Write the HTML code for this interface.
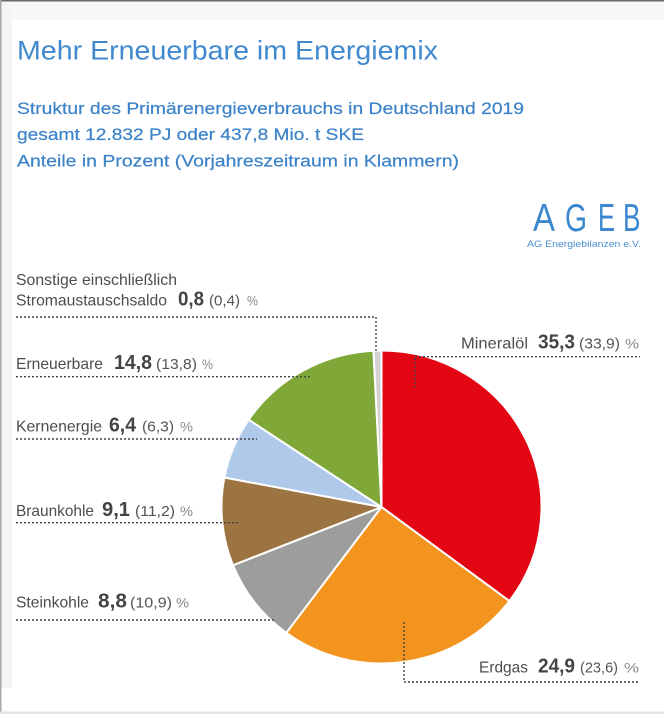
<!DOCTYPE html>
<html><head><meta charset="utf-8"><style>
html,body{margin:0;padding:0;background:#fff;}
svg{display:block;}
text{font-family:"Liberation Sans",sans-serif;}
</style></head><body>
<svg width="664" height="714" viewBox="0 0 664 714" xmlns="http://www.w3.org/2000/svg">
<rect x="0" y="0" width="664" height="714" fill="#fff"/>
<!-- frame -->
<rect x="0" y="0" width="664" height="20" fill="#f7f7f7"/>
<rect x="0" y="0" width="12" height="688" fill="#f5f5f5"/>
<rect x="0" y="0" width="664" height="1.5" fill="#6a6a6a"/>
<rect x="0" y="0" width="1.5" height="714" fill="#a8a8a8"/>
<rect x="0" y="711.5" width="664" height="2.5" fill="#e2e2e2"/>

<!-- header -->
<text x="17" y="59.3" font-size="27" fill="#4189cf" textLength="421" lengthAdjust="spacingAndGlyphs">Mehr Erneuerbare im Energiemix</text>
<g font-size="16.5" fill="#3b82c8" stroke="#3b82c8" stroke-width="0.2">
<text x="17" y="114" textLength="507" lengthAdjust="spacingAndGlyphs">Struktur des Primärenergieverbrauchs in Deutschland 2019</text>
<text x="17" y="140" textLength="347" lengthAdjust="spacingAndGlyphs">gesamt 12.832 PJ oder 437,8 Mio. t SKE</text>
<text x="17" y="166.5" textLength="442" lengthAdjust="spacingAndGlyphs">Anteile in Prozent (Vorjahreszeitraum in Klammern)</text>
</g>

<!-- logo -->
<g font-size="39" fill="#3a87cf">
<text x="533" y="231" textLength="22" lengthAdjust="spacingAndGlyphs">A</text>
<text x="565" y="231" textLength="22" lengthAdjust="spacingAndGlyphs">G</text>
<text x="598" y="231" textLength="17" lengthAdjust="spacingAndGlyphs">E</text>
<text x="623" y="231" textLength="17.5" lengthAdjust="spacingAndGlyphs">B</text>
</g>
<text x="527" y="247" font-size="9" fill="#4a8fd0" textLength="114" lengthAdjust="spacingAndGlyphs">AG Energiebilanzen e.V.</text>

<!-- pie -->
<g stroke="#fff" stroke-width="2" stroke-linejoin="round">
<path d="M381.5 507 L381.5 350.5 A160 156.5 0 0 1 509.37 601.07 Z" fill="#e30613"/>
<path d="M381.5 507 L509.37 601.07 A160 156.5 0 0 1 286.33 632.81 Z" fill="#f3941e"/>
<path d="M381.5 507 L286.33 632.81 A160 156.5 0 0 1 232.99 565.25 Z" fill="#9d9d9c"/>
<path d="M381.5 507 L232.99 565.25 A160 156.5 0 0 1 224.38 477.47 Z" fill="#9c7442"/>
<path d="M381.5 507 L224.38 477.47 A160 156.5 0 0 1 248.7 419.72 Z" fill="#aec9e9"/>
<path d="M381.5 507 L248.7 419.72 A160 156.5 0 0 1 373.47 350.7 Z" fill="#7fa838"/>
<path d="M381.5 507 L373.47 350.7 A160 156.5 0 0 1 381.5 350.5 Z" fill="#d2d2d2"/>
</g>

<!-- leader lines -->
<g fill="none" stroke="#444" stroke-width="1.4" stroke-dasharray="2 2">
<path d="M16 317 H376 V353"/>
<path d="M16 376.7 H310"/>
<path d="M16 439 H257"/>
<path d="M16 522.7 H239"/>
<path d="M16 620 H276"/>
<path d="M415 356.7 H640"/>
<path d="M415 358 V390"/>
<path d="M404 682 H640"/>
<path d="M404 622 V681"/>
</g>

<!-- labels -->
<g>
<text x="16" y="285" font-size="16" fill="#4d4d4d" textLength="161" lengthAdjust="spacingAndGlyphs">Sonstige einschließlich</text>
<text x="16" y="305.5" font-size="16" fill="#4d4d4d" textLength="151" lengthAdjust="spacingAndGlyphs">Stromaustauschsaldo</text>
<text x="178" y="305.5" font-size="20" font-weight="bold" fill="#444" textLength="26" lengthAdjust="spacingAndGlyphs">0,8</text>
<text x="209" y="305.5" font-size="15" fill="#555" textLength="31" lengthAdjust="spacingAndGlyphs">(0,4)</text>
<text x="247" y="305.5" font-size="14" fill="#8a8a8a" textLength="11" lengthAdjust="spacingAndGlyphs">%</text>

<text x="16" y="369" font-size="16" fill="#4d4d4d" textLength="87" lengthAdjust="spacingAndGlyphs">Erneuerbare</text>
<text x="114" y="369" font-size="20" font-weight="bold" fill="#444" textLength="38" lengthAdjust="spacingAndGlyphs">14,8</text>
<text x="156" y="369" font-size="15" fill="#555" textLength="41" lengthAdjust="spacingAndGlyphs">(13,8)</text>
<text x="202" y="369" font-size="14" fill="#8a8a8a" textLength="11" lengthAdjust="spacingAndGlyphs">%</text>

<text x="16" y="431.7" font-size="16" fill="#4d4d4d" textLength="86" lengthAdjust="spacingAndGlyphs">Kernenergie</text>
<text x="109" y="431.7" font-size="20" font-weight="bold" fill="#444" textLength="27" lengthAdjust="spacingAndGlyphs">6,4</text>
<text x="142" y="431.7" font-size="15" fill="#555" textLength="32" lengthAdjust="spacingAndGlyphs">(6,3)</text>
<text x="180" y="431.7" font-size="14" fill="#8a8a8a" textLength="13" lengthAdjust="spacingAndGlyphs">%</text>

<text x="16" y="516" font-size="16" fill="#4d4d4d" textLength="78" lengthAdjust="spacingAndGlyphs">Braunkohle</text>
<text x="102" y="516" font-size="20" font-weight="bold" fill="#444" textLength="28" lengthAdjust="spacingAndGlyphs">9,1</text>
<text x="135" y="516" font-size="15" fill="#555" textLength="40" lengthAdjust="spacingAndGlyphs">(11,2)</text>
<text x="180" y="516" font-size="14" fill="#8a8a8a" textLength="13" lengthAdjust="spacingAndGlyphs">%</text>

<text x="16" y="607.7" font-size="16" fill="#4d4d4d" textLength="73" lengthAdjust="spacingAndGlyphs">Steinkohle</text>
<text x="98" y="607.7" font-size="20" font-weight="bold" fill="#444" textLength="29" lengthAdjust="spacingAndGlyphs">8,8</text>
<text x="130" y="607.7" font-size="15" fill="#555" textLength="42" lengthAdjust="spacingAndGlyphs">(10,9)</text>
<text x="176" y="607.7" font-size="14" fill="#8a8a8a" textLength="13" lengthAdjust="spacingAndGlyphs">%</text>

<text x="461" y="348.3" font-size="16" fill="#4d4d4d" textLength="67" lengthAdjust="spacingAndGlyphs">Mineralöl</text>
<text x="538" y="348.3" font-size="20" font-weight="bold" fill="#444" textLength="37" lengthAdjust="spacingAndGlyphs">35,3</text>
<text x="579" y="348.3" font-size="15" fill="#555" textLength="41" lengthAdjust="spacingAndGlyphs">(33,9)</text>
<text x="625" y="348.3" font-size="14" fill="#8a8a8a" textLength="14" lengthAdjust="spacingAndGlyphs">%</text>

<text x="479" y="672.7" font-size="16" fill="#4d4d4d" textLength="49" lengthAdjust="spacingAndGlyphs">Erdgas</text>
<text x="538" y="672.7" font-size="20" font-weight="bold" fill="#444" textLength="37" lengthAdjust="spacingAndGlyphs">24,9</text>
<text x="580" y="672.7" font-size="15" fill="#555" textLength="38" lengthAdjust="spacingAndGlyphs">(23,6)</text>
<text x="624" y="672.7" font-size="14" fill="#8a8a8a" textLength="15" lengthAdjust="spacingAndGlyphs">%</text>
</g>
</svg>
</body></html>
